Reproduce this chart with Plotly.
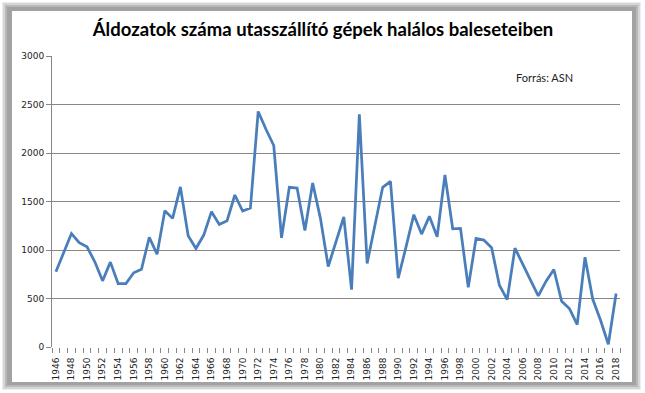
import plotly.graph_objects as go

years = list(range(1946, 2019))
fatalities = [
    775, 975, 1170, 1075, 1033, 878, 682, 875, 654, 654,
    765, 802, 1130, 957, 1405, 1326, 1650, 1147, 1016, 1154,
    1395, 1264, 1302, 1567, 1402, 1433, 2428, 2245, 2077, 1126,
    1646, 1639, 1202, 1691, 1326, 830, 1085, 1340, 592, 2400,
    861, 1257, 1646, 1708, 709, 1033, 1364, 1164, 1347, 1137,
    1774, 1219, 1223, 616, 1119, 1102, 1023, 637, 489, 1019,
    861, 689, 527, 678, 799, 472, 396, 231, 926, 492,
    276, 28, 551,
]
label_years = [y for y in years if y % 2 == 0]
y_ticks = [0, 500, 1000, 1500, 2000, 2500, 3000]

title_text = "Áldozatok száma utasszállító gépek halálos baleseteiben"
source_text = "Forrás: ASN"

W, H = 645, 393
ML, MR, MT, MB = 52, 25, 56, 46
PW, PH = W - ML - MR, H - MT - MB


def px(x):
    return (x - ML) / PW


def py(y):
    return (H - MB - y) / PH


fig = go.Figure()
fig.add_trace(go.Scatter(
    x=years, y=fatalities, mode="lines",
    line=dict(color="#4a7ebb", width=2.75),
    hoverinfo="x+y", showlegend=False,
))

shapes = []
for (x0, y0, x1, y1, c) in [
    (2, 2, 641, 390, "#ececec"),
    (3, 3, 640, 389, "#d6d6d6"),
    (5, 5, 638, 387, "#b8b8b8"),
    (7, 7, 636, 385, "#a2a2a2"),
    (12, 11, 632, 382, "#ffffff"),
]:
    shapes.append(dict(type="rect", xref="paper", yref="paper",
                       x0=px(x0), x1=px(x1), y0=py(y1), y1=py(y0),
                       fillcolor=c, line=dict(width=0), layer="below"))

fig.update_layout(
    width=W, height=H,
    margin=dict(l=ML, r=MR, t=MT, b=MB, pad=0),
    paper_bgcolor="white", plot_bgcolor="rgba(0,0,0,0)",
    shapes=shapes,
    title=dict(text="<b>" + title_text + "</b>", xref="container",
               x=323 / W, xanchor="center",
               yref="container", y=1 - 30 / H, yanchor="middle",
               font=dict(family="Lato", size=18.5, color="#000000")),
    annotations=[dict(text=source_text, xref="paper", yref="paper",
                      x=px(544), y=py(78), xanchor="center", yanchor="middle",
                      showarrow=False,
                      font=dict(family="Lato", size=11, color="#222222"))],
    xaxis=dict(
        range=[1945.5, 2018.5], tickmode="array", tickvals=label_years,
        ticktext=[str(y) for y in label_years], tickangle=-90,
        ticks="outside", ticklen=6, tickcolor="rgba(0,0,0,0)",
        showgrid=False, zeroline=False,
        showline=False,
        tickfont=dict(family="DejaVu Sans", size=9, color="#222222"),
        minor=dict(tick0=1945.5, dtick=1, ticks="outside", ticklen=5,
                   tickcolor="#868686", tickwidth=1, showgrid=False),
        fixedrange=True,
    ),
    yaxis=dict(
        range=[0, 3000], tickmode="array", tickvals=y_ticks,
        ticks="outside", ticklen=5, tickcolor="#868686",
        showgrid=True, gridcolor="#868686", gridwidth=1,
        zeroline=False, showline=True, linecolor="#868686", linewidth=1,
        tickfont=dict(family="DejaVu Sans", size=9, color="#222222"),
        fixedrange=True,
    ),
)
fig.write_html("out.html")
